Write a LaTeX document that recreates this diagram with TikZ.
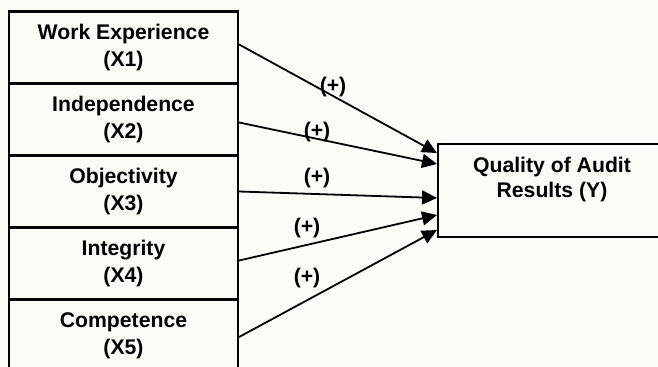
\documentclass[tikz,border=0pt]{standalone}
\usepackage{fontspec}
\setmainfont{Liberation Sans}
\usetikzlibrary{arrows.meta}
\definecolor{paper}{RGB}{252,252,247}

\begin{document}
\begin{tikzpicture}[x=0.5pt, y=-0.5pt,
	box/.style={draw, line width=1.1pt, minimum width=114.5pt,
		minimum height=36pt, inner sep=0pt, align=center,
		font=\fontsize{10.6}{13.5}\selectfont\bfseries},
	sign/.style={inner sep=0pt, font=\fontsize{10.6}{13}\selectfont\bfseries},
	arr/.style={-{Triangle[length=7.5pt,width=7pt]}, line width=0.9pt}]
	\fill[paper] (0,0) rectangle (658,367);
	\useasboundingbox (0,0) rectangle (658,367);
	\clip (0,0) rectangle (658,367);
	% independent variables
	\node[box] (we) at (123.5, 47.5) {Work Experience\\(X1)};
	\node[box] (ind) at (123.5, 119.5) {Independence\\(X2)};
	\node[box] (obj) at (123.5, 191.5) {Objectivity\\(X3)};
	\node[box] (integ) at (123.5, 263.5) {Integrity\\(X4)};
	\node[box] (comp) at (123.5, 335.5) {Competence\\(X5)};
	% dependent variable
	\node[box, minimum height=46.5pt] (qar) at (552.5, 190.5) {};
	\node[align=center, inner sep=0pt, font=\fontsize{10.6}{12.5}\selectfont\bfseries]
		(qartxt) at (552, 180) {Quality of Audit\\Results (Y)};
	\coordinate (t1) at (437, 153);
	\coordinate (t2) at (437, 164);
	\coordinate (t3) at (437, 198);
	\coordinate (t4) at (437, 215);
	\coordinate (t5) at (437, 230);
	\draw[arr] ([yshift=1.5pt]we.east) to (t1);
	\draw[arr] ([yshift=-1.5pt]ind.east) to (t2);
	\draw[arr] (obj.east) to (t3);
	\draw[arr] ([yshift=1.5pt]integ.east) to (t4);
	\draw[arr] ([yshift=-0.75pt]comp.east) to (t5);
	\node[sign] (s1) at (333, 87) {(+)};
	\node[sign] (s2) at (317, 132) {(+)};
	\node[sign] (s3) at (317, 178) {(+)};
	\node[sign] (s4) at (307, 228) {(+)};
	\node[sign] (s5) at (307, 278) {(+)};
\end{tikzpicture}
\end{document}
